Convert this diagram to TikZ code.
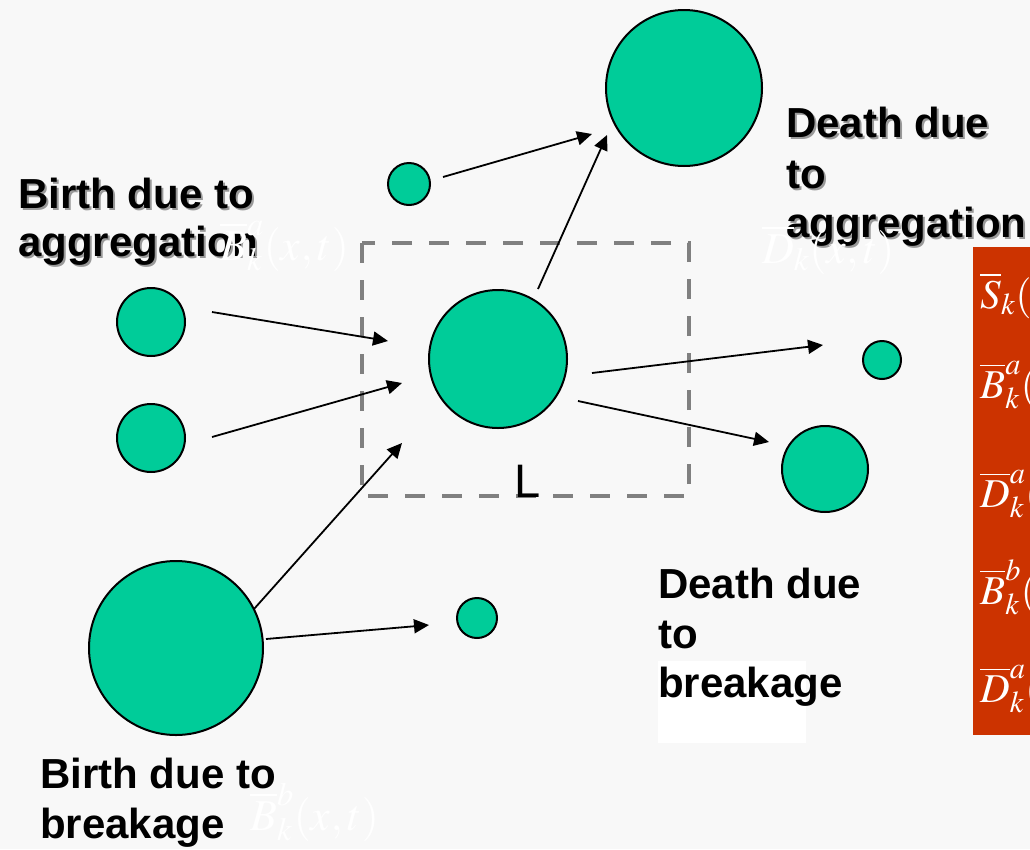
\documentclass[tikz,border=0pt]{standalone}
\usepackage{mathptmx}
\usepackage[no-math]{fontspec}
\newfontfamily\lsans{Liberation Sans}
\usetikzlibrary{arrows.meta}
\definecolor{bgc}{HTML}{F8F8F8}
\definecolor{ballgreen}{HTML}{00CC99}
\definecolor{redbox}{HTML}{CC3300}
\definecolor{dashgray}{HTML}{808080}
\definecolor{shadowgray}{HTML}{999999}
\begin{document}
\begin{tikzpicture}[x=1pt,y=-1pt,
  ball/.style={circle, draw=black, line width=2pt, fill=ballgreen, inner sep=0pt, minimum size=#1},
  arr/.style={-{Triangle[length=15pt,width=14pt]}, line width=1.8pt},
  lbl/.style={anchor=base west, inner sep=0pt, font=\lsans\bfseries\fontsize{42}{49}\selectfont},
  shadow/.style={lbl, text=shadowgray},
  mth/.style={anchor=base west, inner sep=0pt, text=white, font=\fontsize{44}{50}\selectfont},
  rmth/.style={anchor=base west, inner sep=0pt, text=white, font=\fontsize{41}{48}\selectfont},
  box/.style={draw=dashgray, line width=4pt, dash pattern=on 20pt off 17pt}]
\fill[bgc] (0,0) rectangle (1030,849);
\useasboundingbox (0,0) rectangle (1030,849);

% white patch behind "breakage"
\fill[white] (658,661) rectangle (806,743);

% red panel
\fill[redbox] (973,247) rectangle (1030,735);

% dashed control volume
\draw[box] (362,243) rectangle (689,496);
\node[anchor=base west, inner sep=0pt, font=\lsans\fontsize{47}{52}\selectfont] (L) at (514,497) {L};

% particles
\node[ball=156pt] (top) at (684,88) {};
\node[ball=42pt] (tsmall) at (409,184) {};
\node[ball=68pt] (l1) at (151,322) {};
\node[ball=68pt] (l2) at (151,438) {};
\node[ball=174pt] (bl) at (176,648) {};
\node[ball=138pt] (ctr) at (498,359) {};
\node[ball=38pt] (rs) at (882,360) {};
\node[ball=86pt] (rm) at (825,469) {};
\node[ball=40pt] (bs) at (477,618) {};

% arrow end points
\coordinate (a1s) at (443,177); \coordinate (a1e) at (592,134);
\coordinate (a2s) at (538,289); \coordinate (a2e) at (607,135);
\coordinate (a3s) at (212,312); \coordinate (a3e) at (388,341);
\coordinate (a4s) at (212,437); \coordinate (a4e) at (402,383);
\coordinate (a5s) at (254,609); \coordinate (a5e) at (402,443);
\coordinate (a6s) at (266,639); \coordinate (a6e) at (429,625);
\coordinate (a7s) at (592,373); \coordinate (a7e) at (823,345);
\coordinate (a8s) at (578,401); \coordinate (a8e) at (769,442);
\draw[arr] (a1s) -- (a1e);
\draw[arr] (a2s) -- (a2e);
\draw[arr] (a3s) -- (a3e);
\draw[arr] (a4s) -- (a4e);
\draw[arr] (a5s) -- (a5e);
\draw[arr] (a6s) -- (a6e);
\draw[arr] (a7s) -- (a7e);
\draw[arr] (a8s) -- (a8e);

% labels with shadow
\node[shadow] at (20,210) {Birth due to};
\node[shadow] at (20,258) {aggregation};
\node[lbl] (ba1) at (18,208) {Birth due to};
\node[lbl] (ba2) at (18,256) {aggregation};
\node[shadow] at (788,139) {Death due};
\node[shadow] at (788,190) {to};
\node[shadow] at (788,239) {aggregation};
\node[lbl] (da1) at (786,137) {Death due};
\node[lbl] (da2) at (786,188) {to};
\node[lbl] (da3) at (786,237) {aggregation};

% labels without shadow
\node[lbl] (db1) at (658,598) {Death due};
\node[lbl] (db2) at (658,648) {to};
\node[lbl] (db3) at (658,697) {breakage};
\node[lbl] (bb1) at (40,788) {Birth due to};
\node[lbl] (bb2) at (40,838) {breakage};

% white formulas
\node[mth] (fba) at (220,260) {$\overline{B}^a_k(x,t)$};
\node[mth] (fda) at (762,263) {$\overline{D}_k(x,t)$};
\node[mth] (fbb) at (250,830) {$\overline{B}^b_k(x,t)$};

% formulas on red panel
\begin{scope}
\clip (973,247) rectangle (1030,735);
\node[rmth] (r1) at (980,308) {$\overline{S}_k($};
\node[rmth] (r2) at (980,398) {$\overline{B}^a_k($};
\node[rmth] (r3) at (980,507) {$\overline{D}^a_k($};
\node[rmth] (r4) at (980,604) {$\overline{B}^b_k($};
\node[rmth] (r5) at (980,702) {$\overline{D}^a_k($};
\end{scope}
\end{tikzpicture}
\end{document}
